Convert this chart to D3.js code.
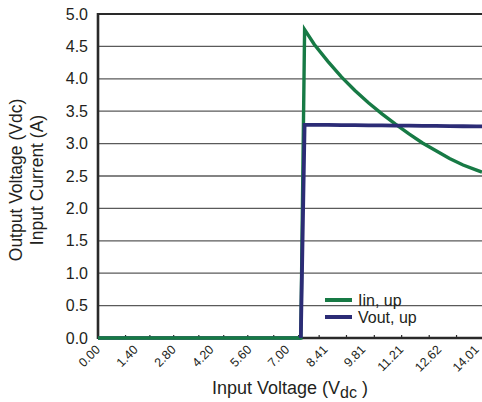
<!DOCTYPE html>
<html>
<head>
<meta charset="utf-8">
<script src="https://cdn.jsdelivr.net/npm/d3@7"></script>
<style>
  html, body { margin: 0; padding: 0; background: #fff; }
  svg { display: block; font-family: "Liberation Sans", Arial, sans-serif; }
</style>
</head>
<body>
<svg id="chart" width="482" height="402"></svg>
<script>
// ---- data ----
const voltage = [0, 1.4, 2.8, 4.2, 5.6, 7.0, 7.5, 7.64, 8.0, 8.5, 9.0, 9.5, 10.0, 10.5, 11.0, 11.5, 12.0, 12.5, 13.0, 13.5, 14.0, 14.2];
const iinUp   = [0, 0, 0, 0, 0, 0, 0, 4.76, 4.53, 4.27, 4.03, 3.82, 3.63, 3.46, 3.30, 3.15, 3.01, 2.89, 2.77, 2.67, 2.59, 2.56];
const voutUp  = [0, 0, 0, 0, 0, 0, 0, 3.29, 3.29, 3.288, 3.286, 3.284, 3.282, 3.28, 3.278, 3.276, 3.274, 3.272, 3.27, 3.268, 3.266, 3.265];
const xTickLabels = ["0.00", "1.40", "2.80", "4.20", "5.60", "7.00", "8.41", "9.81", "11.21", "12.62", "14.01"];
const xMinorTicks = [1.00, 1.90, 2.78, 3.71, 4.63, 5.52, 6.48, 7.40, 8.16, 9.17, 10.20, 11.21, 12.23, 13.24];
const yTicks = [0, 0.5, 1.0, 1.5, 2.0, 2.5, 3.0, 3.5, 4.0, 4.5, 5.0];
const seriesNames = ["Iin, up", "Vout, up"];
const seriesColors = ["#177a45", "#2c2c76"];

(function () {
// ---- layout ----
const svg = d3.select("#chart");
const pl = 98, pr = 482, pt = 14, pb = 338;
const textColor = "#231f20";

const x = d3.scaleLinear().domain([0, 14.2]).range([pl, pr]);
const y = d3.scaleLinear().domain([0, 5]).range([pb, pt]);

// gridlines
svg.append("g").selectAll("line")
  .data(yTicks.filter(v => v > 0 && v < 5))
  .join("line")
  .attr("x1", pl).attr("x2", pr)
  .attr("y1", d => y(d)).attr("y2", d => y(d))
  .attr("stroke", "#5a5a5a").attr("stroke-width", 1.3);

// top border line (5.0)
svg.append("line")
  .attr("x1", pl).attr("x2", pr)
  .attr("y1", y(5)).attr("y2", y(5))
  .attr("stroke", "#2a2a2a").attr("stroke-width", 2.2);

// y axis
const yAxis = d3.axisLeft(y).tickValues(yTicks).tickFormat(d3.format(".1f")).tickSize(0).tickPadding(10);
const gy = svg.append("g").attr("transform", `translate(${pl},0)`).call(yAxis);
gy.select(".domain").remove();
gy.selectAll("text").attr("fill", textColor).style("font-size", "16px")
  .style("font-family", '"Liberation Sans", Arial, sans-serif');

// x axis minor ticks (inward)
const xAxis = d3.axisTop(x).tickValues(xMinorTicks).tickFormat("").tickSize(3);
const gx = svg.append("g").attr("transform", `translate(0,${pb})`).call(xAxis);
gx.select(".domain").remove();
gx.selectAll("line").attr("stroke", "#2a2a2a").attr("stroke-width", 1.2);

// x tick labels (rotated)
const labelValues = xTickLabels.map(s => +s);
svg.append("g").selectAll("text")
  .data(xTickLabels)
  .join("text")
  .attr("transform", (d, i) => `translate(${x(labelValues[i]) - 1.5},${pb + 8}) rotate(-45)`)
  .attr("text-anchor", "end")
  .attr("dy", "0.5em")
  .attr("fill", textColor)
  .style("font-size", "12.5px")
  .text(d => d);

// axes lines
svg.append("line").attr("x1", pl).attr("x2", pl).attr("y1", pt - 1).attr("y2", pb + 1)
  .attr("stroke", "#2a2a2a").attr("stroke-width", 2.6);
svg.append("line").attr("x1", pl).attr("x2", pr).attr("y1", pb).attr("y2", pb)
  .attr("stroke", "#2a2a2a").attr("stroke-width", 2.6);

// series
const pts = (vals) => voltage.map((v, i) => ({ v, val: vals[i] }));
const line = d3.line().x(d => x(d.v)).y(d => y(d.val));

const stepStart = 7.5;
// Vout zero segment (beneath Iin)
svg.append("path").datum(pts(voutUp).filter(d => d.v <= stepStart))
  .attr("d", line).attr("fill", "none").attr("stroke", seriesColors[1]).attr("stroke-width", 3.6);
// Iin
svg.append("path").datum(pts(iinUp))
  .attr("d", line).attr("fill", "none").attr("stroke", seriesColors[0])
  .attr("stroke-width", 3.4).attr("stroke-linejoin", "miter").attr("stroke-miterlimit", 20);
// Vout rising part (on top)
svg.append("path").datum(pts(voutUp).filter(d => d.v >= stepStart))
  .attr("d", line).attr("fill", "none").attr("stroke", seriesColors[1])
  .attr("stroke-width", 3.8).attr("stroke-linejoin", "miter");

// legend
const legend = svg.append("g");
seriesNames.forEach((name, i) => {
  const ly = 300 + i * 17;
  legend.append("line").attr("x1", 325).attr("x2", 352).attr("y1", ly).attr("y2", ly)
    .attr("stroke", seriesColors[i]).attr("stroke-width", 4);
  legend.append("text").attr("x", 358).attr("y", ly + 5.5)
    .attr("fill", textColor).style("font-size", "16px").text(name);
});

// x axis title
const xt = svg.append("text").attr("x", (pl + pr) / 2).attr("y", 394)
  .attr("text-anchor", "middle").attr("fill", textColor).style("font-size", "18px");
xt.append("tspan").text("Input Voltage (V");
xt.append("tspan").attr("dy", 4).style("font-size", "16px").text("dc");
xt.append("tspan").attr("dy", -4).text(" )");

// y axis titles
const yc = 180;
svg.append("text").attr("transform", `translate(22,${yc}) rotate(-90)`)
  .attr("text-anchor", "middle").attr("fill", textColor).style("font-size", "17.5px")
  .text("Output Voltage (Vdc)");
svg.append("text").attr("transform", `translate(43,${yc}) rotate(-90)`)
  .attr("text-anchor", "middle").attr("fill", textColor).style("font-size", "17.5px")
  .text("Input Current (A)");
})();
</script>
</body>
</html>
